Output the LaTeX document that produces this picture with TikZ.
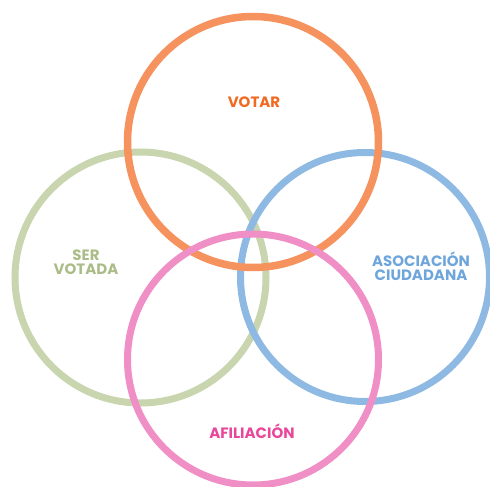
\documentclass[tikz,border=0pt]{standalone}
\usepackage{fontspec}
\setmainfont{Poppins}
\definecolor{orC}{HTML}{F5925E}
\definecolor{orT}{HTML}{F06A22}
\definecolor{grC}{HTML}{C8D5AE}
\definecolor{grT}{HTML}{AABD88}
\definecolor{blC}{HTML}{8EB9E2}
\definecolor{blT}{HTML}{6EA6DC}
\definecolor{pkC}{HTML}{F08EC6}
\definecolor{pkT}{HTML}{E8479A}
\begin{document}
\begin{tikzpicture}[x=1pt,y=-1pt,
  ring/.style={line width=7pt},
  lbl/.style={font=\fontsize{15}{13.5}\selectfont\bfseries, align=center, inner sep=0pt}]
\useasboundingbox (0,0) rectangle (490,487);
\node[ring, draw=grC, circle, minimum size=251pt] (ser) at (140.5,277.5) {};
\node[ring, draw=blC, circle, minimum size=249pt] (aso) at (365,277) {};
\node[ring, draw=orC, circle, minimum size=251pt, line width=7.5pt] (vot) at (253,142) {};
\node[ring, draw=pkC, circle, minimum size=251pt] (afi) at (253,359.5) {};
\node[lbl, text=orT] (tv) at (254,102) {VOTAR};
\node[lbl, text=grT] (ts) at (86,262) {SER\\VOTADA};
\node[lbl, text=blT] (ta) at (421,266) {ASOCIACIÓN\\CIUDADANA};
\node[lbl, text=pkT] (tf) at (252,431) {AFILIACIÓN};
\end{tikzpicture}
\end{document}
